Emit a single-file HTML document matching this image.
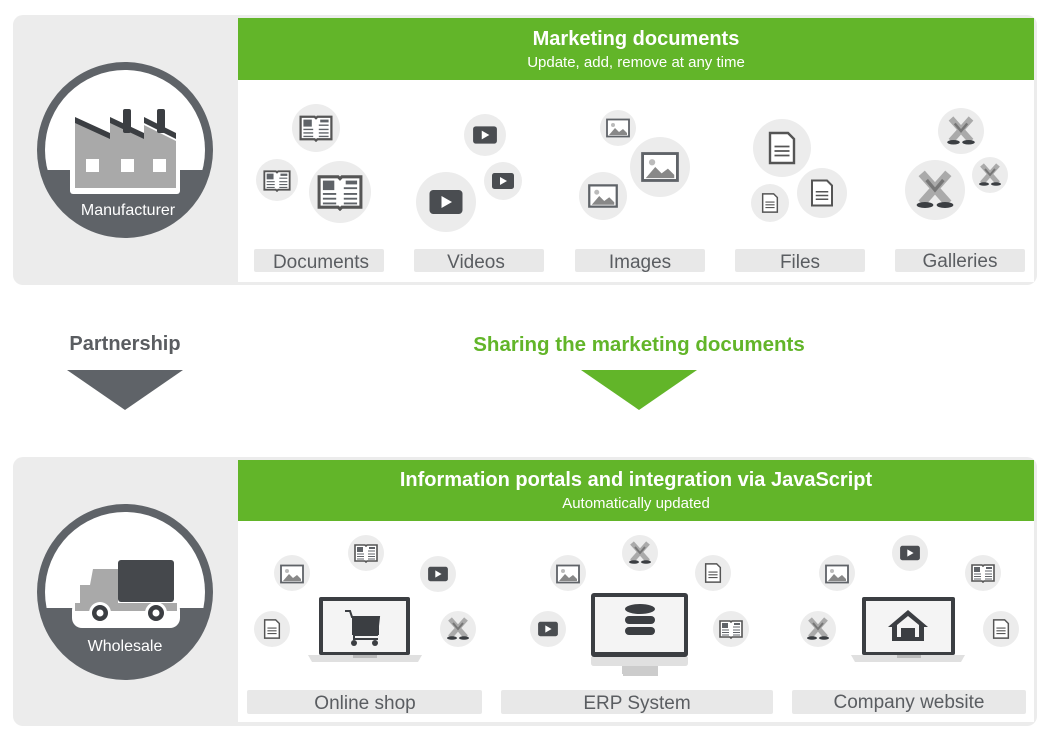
<!DOCTYPE html>
<html><head><meta charset="utf-8"><style>
html,body{margin:0;padding:0;background:#fff;width:1050px;height:737px;overflow:hidden}
text{font-family:"Liberation Sans",sans-serif}
</style></head><body>
<svg width="1050" height="737" viewBox="0 0 1050 737" xmlns="http://www.w3.org/2000/svg">
<defs>
<symbol id="book" viewBox="-12 -10 24 20"><path d="M-11,-8 L-1,-8 L0,-7 L1,-8 L11,-8 L11,8 L1,8 L0,9 L-1,8 L-11,8Z" fill="#fff" stroke="#555" stroke-width="1.6"/><rect x="-9" y="-6" width="6" height="5" fill="#5f6368"/><rect x="3" y="-6" width="6" height="2" fill="#5f6368"/><path d="M-9,1H-2M-9,3.5H-2M-9,6H-2M2,-2H9M2,1H9M2,3.5H9M2,6H9" stroke="#5f6368" stroke-width="1"/></symbol>
<symbol id="vid" viewBox="-12 -10 24 20"><rect x="-11" y="-8" width="22" height="16" rx="2.5" fill="#4a4d51"/><path d="M-3,-4L4,0L-3,4Z" fill="#fff"/></symbol>
<symbol id="img" viewBox="-12 -10 24 20"><rect x="-11" y="-8.5" width="22" height="17" fill="#fff" stroke="#5f6368" stroke-width="1.8"/><path d="M-9,7L-3,0L1,4L5,1L9,5V7Z" fill="#888"/><circle cx="-5" cy="-3" r="2" fill="#bbb"/></symbol>
<symbol id="file" viewBox="-12 -12 24 24"><path d="M-8,-10H4L8,-6V10H-8Z" fill="#fff" stroke="#555" stroke-width="1.6"/><path d="M-5,-1H5M-5,2H5M-5,5H5" stroke="#555" stroke-width="1.2"/></symbol>
<symbol id="gal" viewBox="-12 -12 24 24"><path d="M-8,-10L8,8M8,-10L-8,8" stroke="#aaa" stroke-width="5"/><path d="M-5,-6L0,0L5,-6" stroke="#777" stroke-width="2" fill="none"/><ellipse cx="-6" cy="9" rx="5" ry="1.8" fill="#3b3e42"/><ellipse cx="6" cy="9" rx="5" ry="1.8" fill="#3b3e42"/></symbol>
</defs>

<rect x="13" y="15" width="1024" height="270" rx="10" fill="#ececec"/>
<rect x="238" y="18" width="796" height="264" fill="#fff"/>
<rect x="238" y="18" width="796" height="62" fill="#62b529"/>
<text x="636" y="45" text-anchor="middle" fill="#fff" font-size="20" font-weight="bold">Marketing documents</text>
<text x="636" y="67" text-anchor="middle" fill="#fff" font-size="15">Update, add, remove at any time</text>

<clipPath id="c1"><circle cx="125" cy="150" r="80"/></clipPath>
<circle cx="125" cy="150" r="88" fill="#5f6368"/>
<g clip-path="url(#c1)"><rect x="40" y="60" width="170" height="110" fill="#fff"/>
<rect x="70" y="160" width="110" height="34" rx="3" fill="#fff"/></g>
<path d="M75,122 L75,188 L176,188 L176,141 L144,125 L144,137 L110,122 L110,137Z" fill="#a9a9a9"/>
<path d="M75,117 L110,133 L110,139 L75,123Z M110,117 L144,133 L144,139 L110,123Z M144,117 L176,133 L176,139 L144,123Z" fill="#3b3e42"/>
<rect x="123" y="109" width="8" height="24" rx="2" fill="#3b3e42"/><rect x="157" y="109" width="8" height="24" rx="2" fill="#3b3e42"/>
<rect x="86" y="159" width="13" height="13" fill="#fff"/><rect x="121" y="159" width="13" height="13" fill="#fff"/><rect x="153" y="159" width="13" height="13" fill="#fff"/>
<text x="128" y="215" text-anchor="middle" fill="#fff" font-size="16">Manufacturer</text>

<g fill="#ececec">
<circle cx="316" cy="128" r="24"/><circle cx="277" cy="180" r="21"/><circle cx="340" cy="192" r="31"/>
<circle cx="485" cy="135" r="21"/><circle cx="503" cy="181" r="19"/><circle cx="446" cy="202" r="30"/>
<circle cx="618" cy="128" r="18"/><circle cx="660" cy="167" r="30"/><circle cx="603" cy="196" r="24"/>
<circle cx="782" cy="148" r="29"/><circle cx="822" cy="193" r="25"/><circle cx="770" cy="203" r="19"/>
<circle cx="961" cy="131" r="23"/><circle cx="990" cy="175" r="18"/><circle cx="935" cy="190" r="30"/>
</g>
<use href="#book" x="299" y="114" width="34" height="28"/>
<use href="#book" x="263" y="169" width="28" height="23"/>
<use href="#book" x="317" y="173" width="46" height="38"/>
<use href="#vid" x="472" y="124" width="26" height="22"/>
<use href="#vid" x="491" y="171" width="24" height="20"/>
<use href="#vid" x="428" y="187" width="36" height="30"/>
<use href="#img" x="606" y="118" width="24" height="20"/>
<use href="#img" x="641" y="151" width="38" height="32"/>
<use href="#img" x="588" y="183" width="30" height="26"/>
<use href="#file" x="764" y="130" width="36" height="36"/>
<use href="#file" x="807" y="178" width="30" height="30"/>
<use href="#file" x="759" y="192" width="22" height="22"/>
<use href="#gal" x="946" y="116" width="30" height="30"/>
<use href="#gal" x="978" y="163" width="24" height="24"/>
<use href="#gal" x="915" y="170" width="40" height="40"/>

<g fill="#e8e8e8">
<rect x="254" y="249" width="130" height="23" rx="2"/><rect x="414" y="249" width="130" height="23" rx="2"/>
<rect x="575" y="249" width="130" height="23" rx="2"/><rect x="735" y="249" width="130" height="23" rx="2"/>
<rect x="895" y="249" width="130" height="23" rx="2"/>
</g>
<g fill="#5a5d61" font-size="19" text-anchor="middle">
<text x="321" y="268">Documents</text><text x="476" y="268">Videos</text><text x="640" y="268">Images</text>
<text x="800" y="268">Files</text><text x="960" y="267">Galleries</text>
</g>

<text x="125" y="350" text-anchor="middle" fill="#5a5d61" font-size="20" font-weight="bold">Partnership</text>
<path d="M67,370 L183,370 L125,410Z" fill="#5f6368"/>
<text x="639" y="351" text-anchor="middle" fill="#62b529" font-size="20.5" font-weight="bold">Sharing the marketing documents</text>
<path d="M581,370 L697,370 L639,410Z" fill="#62b529"/>

<rect x="13" y="457" width="1024" height="269" rx="10" fill="#ececec"/>
<rect x="238" y="460" width="796" height="262" fill="#fff"/>
<rect x="238" y="460" width="796" height="61" fill="#62b529"/>
<text x="636" y="486" text-anchor="middle" fill="#fff" font-size="20" font-weight="bold">Information portals and integration via JavaScript</text>
<text x="636" y="508" text-anchor="middle" fill="#fff" font-size="15">Automatically updated</text>

<clipPath id="c2"><circle cx="125" cy="592" r="80"/></clipPath>
<circle cx="125" cy="592" r="88" fill="#5f6368"/>
<g clip-path="url(#c2)"><rect x="40" y="500" width="170" height="108" fill="#fff"/>
<rect x="72" y="600" width="108" height="28" rx="10" fill="#fff"/></g>
<rect x="118" y="560" width="56" height="42" rx="3" fill="#45484c"/>
<path d="M93,569 L118,569 L118,604 L80,604 L80,585 L90,585Z" fill="#a9a9a9"/>
<rect x="75" y="603" width="102" height="8" fill="#a9a9a9"/>
<circle cx="100" cy="613" r="11" fill="#fff"/><circle cx="100" cy="613" r="8" fill="#3b3e42"/><circle cx="100" cy="613" r="3.5" fill="#fff"/>
<circle cx="156" cy="613" r="11" fill="#fff"/><circle cx="156" cy="613" r="8" fill="#3b3e42"/><circle cx="156" cy="613" r="3.5" fill="#fff"/>
<text x="125" y="651" text-anchor="middle" fill="#fff" font-size="16">Wholesale</text>

<g fill="#ececec">
<circle cx="292" cy="573" r="18"/><circle cx="366" cy="553" r="18"/><circle cx="438" cy="574" r="18"/><circle cx="272" cy="629" r="18"/><circle cx="458" cy="629" r="18"/>
<circle cx="568" cy="573" r="18"/><circle cx="640" cy="553" r="18"/><circle cx="713" cy="573" r="18"/><circle cx="548" cy="629" r="18"/><circle cx="731" cy="629" r="18"/>
<circle cx="837" cy="573" r="18"/><circle cx="910" cy="553" r="18"/><circle cx="983" cy="573" r="18"/><circle cx="818" cy="629" r="18"/><circle cx="1001" cy="629" r="18"/>
</g>
<use href="#img" x="280" y="564" width="24" height="20"/>
<use href="#book" x="354" y="543" width="24" height="20"/>
<use href="#vid" x="427" y="565" width="22" height="18"/>
<use href="#file" x="261" y="618" width="22" height="22"/>
<use href="#gal" x="446" y="617" width="24" height="24"/>
<use href="#img" x="556" y="564" width="24" height="20"/>
<use href="#gal" x="628" y="541" width="24" height="24"/>
<use href="#file" x="702" y="562" width="22" height="22"/>
<use href="#vid" x="537" y="620" width="22" height="18"/>
<use href="#book" x="719" y="619" width="24" height="20"/>
<use href="#img" x="825" y="564" width="24" height="20"/>
<use href="#vid" x="899" y="544" width="22" height="18"/>
<use href="#book" x="971" y="563" width="24" height="20"/>
<use href="#gal" x="806" y="617" width="24" height="24"/>
<use href="#file" x="990" y="618" width="22" height="22"/>

<rect x="319" y="597" width="91" height="58" rx="2" fill="#3b3e42"/>
<rect x="323" y="601" width="83" height="51" fill="#f4f4f4"/>
<path d="M308,655 H422 L418,662 H312Z" fill="#e0e0e0"/><rect x="353" y="655" width="24" height="3" fill="#bbb"/>
<path d="M345,611 L350,611 L352,617 L379,617 L377,635 L354,635 L354,639 L378,639" stroke="#3b3e42" stroke-width="2" fill="none"/>
<rect x="352" y="617" width="27" height="18" fill="#3b3e42"/>
<circle cx="354" cy="643" r="3" fill="#3b3e42"/><circle cx="375" cy="643" r="3" fill="#3b3e42"/>
<rect x="591" y="593" width="97" height="64" rx="3" fill="#3b3e42"/>
<rect x="595" y="597" width="89" height="55" fill="#f4f4f4"/>
<path d="M591,657 H688 V663 Q688,666 685,666 H594 Q591,666 591,663Z" fill="#e0e0e0"/>
<rect x="622" y="666" width="36" height="8" fill="#ccc"/><rect x="623" y="673" width="35" height="3" fill="#ccc"/>
<g fill="#3b3e42"><ellipse cx="640" cy="609" rx="15" ry="5"/><rect x="625" y="616" width="30" height="8" rx="4"/><rect x="625" y="627" width="30" height="8" rx="4"/></g>
<rect x="862" y="597" width="93" height="58" rx="2" fill="#3b3e42"/>
<rect x="866" y="601" width="85" height="51" fill="#f4f4f4"/>
<path d="M851,655 H965 L961,662 H855Z" fill="#e0e0e0"/><rect x="897" y="655" width="24" height="3" fill="#bbb"/>
<path d="M908,610 L928,627 L924,627 L924,641 L892,641 L892,627 L888,627Z" fill="#3b3e42"/>
<path d="M908,616 L919,625 V637 H897 V625Z" fill="#f4f4f4"/><rect x="901" y="628" width="14" height="13" fill="#3b3e42"/>

<g fill="#e8e8e8">
<rect x="247" y="690" width="235" height="24" rx="2"/><rect x="501" y="690" width="272" height="24" rx="2"/><rect x="792" y="690" width="234" height="24" rx="2"/>
</g>
<g fill="#5a5d61" font-size="19" text-anchor="middle">
<text x="365" y="709">Online shop</text><text x="637" y="709">ERP System</text><text x="909" y="708">Company website</text>
</g>
</svg>
</body></html>
